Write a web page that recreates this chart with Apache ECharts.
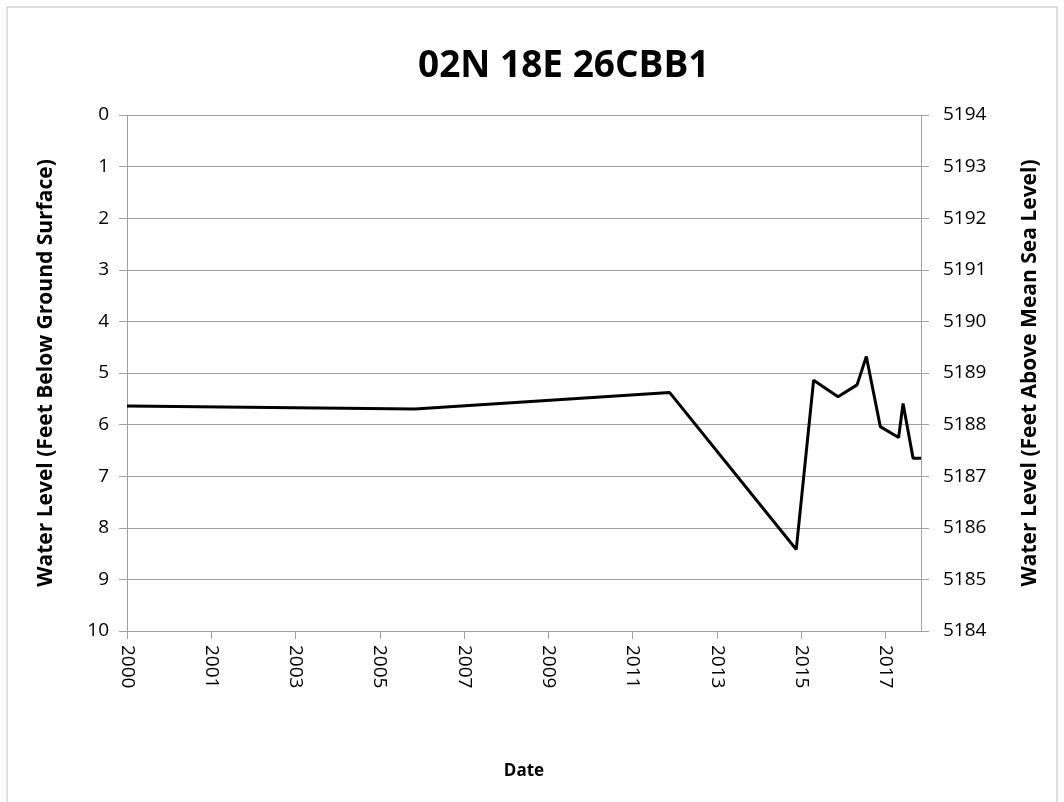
<!DOCTYPE html>
<html>
  <head>
    <meta charset="utf-8">
    <title>02N 18E 26CBB1</title>
    <style>
        *{
            padding: 0;
            margin: 0;
        }
        body{
            width: 1064px;
            height: 802px;
            background-color: #ffffff;
            overflow: hidden;
        }
        #chart{
            width: 1064px;
            height: 802px;
        }
    </style>
  </head>
  <body>
    <div id="chart"></div>
    <script type="text/javascript" src="https://cdn.jsdelivr.net/npm/echarts@6/dist/echarts.min.js"></script>
    <script type="text/javascript">
        // readings (feet below ground surface)
        var dates = ['2000-01-01', '2006-07-20', '2012-05-05', '2015-03-22', '2015-08-13', '2016-03-03',
                     '2016-08-08', '2016-10-24', '2017-02-17', '2017-07-19', '2017-08-25', '2017-11-16', '2018-01-21'];
        var depth = [5.64, 5.70, 5.38, 8.42, 5.14, 5.46, 5.23, 4.68, 6.04, 6.25, 5.59, 6.65, 6.65];

        // x axis: days since 2000-01-01, one tick every 700 days
        var xStart = '2000-01-01';
        var xInterval = 700;
        var xMax = 6595;

        var leftMin = 0, leftMax = 10;
        var rightMin = 5184, rightMax = 5194;

        var dayMs = 86400000;
        var t0 = Date.parse(xStart);
        var points = [];
        for (var i = 0; i < dates.length; i++) {
            points.push([(Date.parse(dates[i]) - t0) / dayMs, depth[i]]);
        }

        var font = 'Open Sans';
        var gridColor = '#a0a0a0';

        var myChart = echarts.init(document.getElementById('chart'));
        var option = {
            animation: false,
            title: {
                text: '02N 18E 26CBB1',
                left: 413,
                top: 43,
                textStyle: { fontFamily: font, fontSize: 37, fontWeight: 'bold', color: '#000' }
            },
            graphic: [{
                type: 'rect',
                shape: { x: 7, y: 7, width: 1050, height: 820 },
                style: { fill: 'none', stroke: '#c0c0c0', lineWidth: 1 }
            }],
            grid: { left: 127, right: 143, top: 115, bottom: 171 },
            xAxis: {
                type: 'value',
                position: 'bottom',
                min: 0,
                max: xMax,
                interval: xInterval,
                name: 'Date',
                nameLocation: 'middle',
                nameGap: 132,
                nameTextStyle: { fontFamily: font, fontSize: 17, fontWeight: 'bold', color: '#000' },
                splitLine: { show: false },
                axisLine: { onZero: false, lineStyle: { color: gridColor } },
                axisTick: { show: true, length: 8, lineStyle: { color: gridColor } },
                axisLabel: {
                    rotate: -90,
                    margin: 14,
                    fontFamily: font,
                    fontSize: 19,
                    color: '#000',
                    showMaxLabel: false,
                    formatter: function (v) {
                        return String(new Date(t0 + v * dayMs).getUTCFullYear());
                    }
                }
            },
            yAxis: [{
                type: 'value',
                inverse: true,
                min: leftMin,
                max: leftMax,
                interval: 1,
                position: 'left',
                name: 'Water Level (Feet Below Ground Surface)',
                nameLocation: 'middle',
                nameGap: 70,
                nameTextStyle: { fontFamily: font, fontSize: 21, fontWeight: 'bold', color: '#000' },
                axisLine: { show: true, onZero: false, lineStyle: { color: gridColor } },
                axisTick: { show: true, length: 8, lineStyle: { color: gridColor } },
                axisLabel: { margin: 18, fontFamily: font, fontSize: 19, color: '#000' },
                splitLine: { show: true, lineStyle: { color: gridColor, width: 1 } }
            }, {
                type: 'value',
                min: rightMin,
                max: rightMax,
                interval: 1,
                position: 'right',
                name: 'Water Level (Feet Above Mean Sea Level)',
                nameLocation: 'middle',
                nameGap: 99,
                nameTextStyle: { fontFamily: font, fontSize: 21, fontWeight: 'bold', color: '#000' },
                axisLine: { show: true, onZero: false, lineStyle: { color: gridColor } },
                axisTick: { show: true, length: 8, lineStyle: { color: gridColor } },
                axisLabel: {
                    margin: 22, fontFamily: font, fontSize: 19, color: '#000',
                    formatter: function (v) { return String(v); }
                },
                splitLine: { show: false }
            }],
            series: [{
                type: 'line',
                yAxisIndex: 0,
                data: points,
                showSymbol: false,
                lineStyle: { color: '#000', width: 3 }
            }]
        };
        myChart.setOption(option);
    </script>
  </body>
</html>
